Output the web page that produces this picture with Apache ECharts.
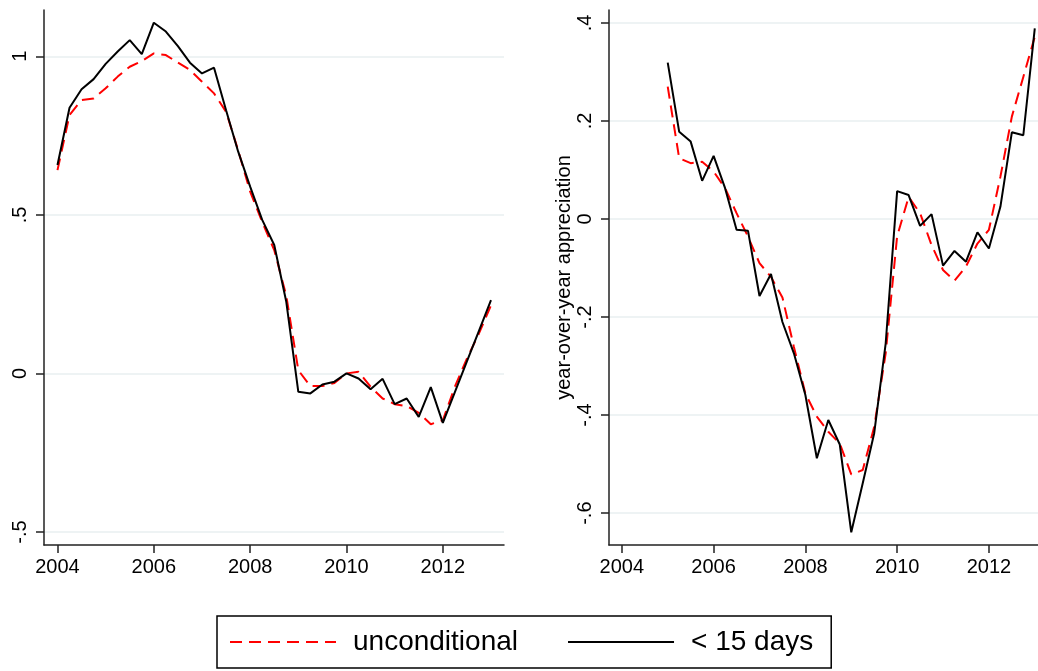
<!DOCTYPE html>
<html>
<head>
<meta charset="utf-8">
<title>appreciation</title>
<script src="https://cdn.jsdelivr.net/npm/echarts@6/dist/echarts.min.js"></script>
<style>
  html, body { margin: 0; padding: 0; background: #fff; }
  #chart { width: 1038px; height: 671px; }
</style>
</head>
<body>
<div id="chart"></div>
<script>
// quarterly dates
var quartersLeft = [
    2004, 2004.25, 2004.5, 2004.75, 2005, 2005.25, 2005.5, 2005.75,
    2006, 2006.25, 2006.5, 2006.75, 2007, 2007.25, 2007.5, 2007.75,
    2008, 2008.25, 2008.5, 2008.75, 2009, 2009.25, 2009.5, 2009.75,
    2010, 2010.25, 2010.5, 2010.75, 2011, 2011.25, 2011.5, 2011.75,
    2012, 2012.25, 2012.5, 2012.75, 2013
];
var quartersRight = [
    2005, 2005.25, 2005.5, 2005.75, 2006, 2006.25, 2006.5, 2006.75,
    2007, 2007.25, 2007.5, 2007.75, 2008, 2008.25, 2008.5, 2008.75,
    2009, 2009.25, 2009.5, 2009.75, 2010, 2010.25, 2010.5, 2010.75,
    2011, 2011.25, 2011.5, 2011.75, 2012, 2012.25, 2012.5, 2012.75, 2013
];

// left panel
var uncondLeft = [
    0.641, 0.815, 0.862, 0.867, 0.899, 0.936, 0.967, 0.985,
    1.009, 1.004, 0.980, 0.957, 0.920, 0.883, 0.825, 0.704,
    0.573, 0.478, 0.389, 0.245, 0.010, -0.040, -0.040, -0.030,
    0.000, 0.005, -0.042, -0.079, -0.097, -0.103, -0.124, -0.160,
    -0.148, -0.042, 0.047, 0.126, 0.215
];
var shortLeft = [
    0.657, 0.838, 0.896, 0.928, 0.976, 1.015, 1.051, 1.007,
    1.106, 1.078, 1.032, 0.980, 0.946, 0.964, 0.830, 0.700,
    0.589, 0.484, 0.405, 0.226, -0.058, -0.063, -0.035, -0.026,
    0.000, -0.016, -0.050, -0.017, -0.097, -0.079, -0.137, -0.043,
    -0.156, -0.059, 0.038, 0.134, 0.231
];

// right panel
var uncondRight = [
    0.270, 0.124, 0.114, 0.117, 0.097, 0.063, 0.012, -0.036,
    -0.090, -0.118, -0.160, -0.261, -0.356, -0.403, -0.434, -0.458,
    -0.521, -0.512, -0.424, -0.274, -0.035, 0.045, 0.012, -0.053,
    -0.104, -0.126, -0.097, -0.050, -0.022, 0.086, 0.209, 0.290, 0.372
];
var shortRight = [
    0.319, 0.178, 0.158, 0.078, 0.129, 0.063, -0.022, -0.024,
    -0.157, -0.112, -0.210, -0.274, -0.359, -0.488, -0.410, -0.460,
    -0.639, -0.539, -0.437, -0.254, 0.057, 0.049, -0.014, 0.010,
    -0.095, -0.065, -0.087, -0.027, -0.060, 0.025, 0.177, 0.171, 0.389
];

var xTicks = [2004, 2006, 2008, 2010, 2012];
var yTicksLeft = [-0.5, 0, 0.5, 1];
var yTicksRight = [-0.6, -0.4, -0.2, 0, 0.2, 0.4];
var seriesNames = ['unconditional', '< 15 days'];
var rightYName = 'year-over-year appreciation';

var font = '"Liberation Sans", Arial, Helvetica, sans-serif';
var axisColor = '#222';
var gridColor = '#e8eff1';

function pairs(xs, ys) {
    return xs.map(function (x, i) { return [x, ys[i]]; });
}

// stata style labels: .5, -.6
function stataNum(v) {
    var s = String(Math.round(v * 100) / 100);
    return s.replace(/^0\./, '.').replace(/^-0\./, '-.');
}

function xAxisFor(idx, min, max) {
    return {
        type: 'value',
        gridIndex: idx,
        min: min,
        max: max,
        axisLine: { onZero: false, lineStyle: { color: axisColor, width: 1.5 } },
        axisTick: { customValues: xTicks, length: 8, lineStyle: { color: axisColor, width: 1.5 } },
        axisLabel: {
            customValues: xTicks,
            margin: 12,
            color: '#000',
            fontSize: 20,
            fontFamily: font,
            formatter: function (v) { return String(v); }
        },
        splitLine: { show: false }
    };
}

function yAxisFor(idx, min, max, ticks, name) {
    var ax = {
        type: 'value',
        gridIndex: idx,
        min: min,
        max: max,
        axisLine: { show: true, onZero: false, lineStyle: { color: axisColor, width: 1.5 } },
        axisTick: { show: true, customValues: ticks, length: 8, lineStyle: { color: axisColor, width: 1.5 } },
        axisLabel: {
            customValues: ticks,
            rotate: 90,
            margin: 14,
            color: '#000',
            fontSize: 20,
            fontFamily: font,
            formatter: stataNum
        },
        splitLine: { show: true, lineStyle: { color: gridColor, width: 1.5 } }
    };
    if (name) {
        ax.name = name;
        ax.nameLocation = 'middle';
        ax.nameGap = 32;
        ax.nameTextStyle = { color: '#000', fontSize: 20, fontFamily: font };
    }
    return ax;
}

var redLine = { color: '#ff0000', width: 2, type: [12, 7] };
var blackLine = { color: '#000', width: 2 };

var chart = echarts.init(document.getElementById('chart'));
var option = {
    animation: false,
    backgroundColor: '#fff',
    grid: [
        { left: 44, top: 10, width: 460, height: 535 },
        { left: 609, top: 10, width: 429, height: 535 }
    ],
    xAxis: [
        xAxisFor(0, 2003.72, 2013.27),
        xAxisFor(1, 2003.72, 2013.07)
    ],
    yAxis: [
        yAxisFor(0, -0.541, 1.146, yTicksLeft),
        yAxisFor(1, -0.665, 0.4265, yTicksRight, rightYName)
    ],
    legend: {
        data: seriesNames,
        left: 217,
        top: 616,
        padding: [12, 18, 12, 12],
        itemWidth: 106,
        itemHeight: 14,
        itemGap: 49,
        itemStyle: { opacity: 0 },
        borderColor: '#000',
        borderWidth: 1.5,
        textStyle: { color: '#000', fontSize: 28, fontFamily: font, lineHeight: 28, padding: [0, 0, 0, 12] }
    },
    series: [
        {
            name: seriesNames[0], type: 'line', xAxisIndex: 0, yAxisIndex: 0,
            data: pairs(quartersLeft, uncondLeft),
            symbol: 'none', showSymbol: false, lineStyle: redLine, itemStyle: { color: '#ff0000' }
        },
        {
            name: seriesNames[1], type: 'line', xAxisIndex: 0, yAxisIndex: 0,
            data: pairs(quartersLeft, shortLeft),
            symbol: 'none', showSymbol: false, lineStyle: blackLine, itemStyle: { color: '#000' }
        },
        {
            name: seriesNames[0], type: 'line', xAxisIndex: 1, yAxisIndex: 1,
            data: pairs(quartersRight, uncondRight),
            symbol: 'none', showSymbol: false, lineStyle: redLine, itemStyle: { color: '#ff0000' }
        },
        {
            name: seriesNames[1], type: 'line', xAxisIndex: 1, yAxisIndex: 1,
            data: pairs(quartersRight, shortRight),
            symbol: 'none', showSymbol: false, lineStyle: blackLine, itemStyle: { color: '#000' }
        }
    ]
};
chart.setOption(option);
</script>
</body>
</html>
